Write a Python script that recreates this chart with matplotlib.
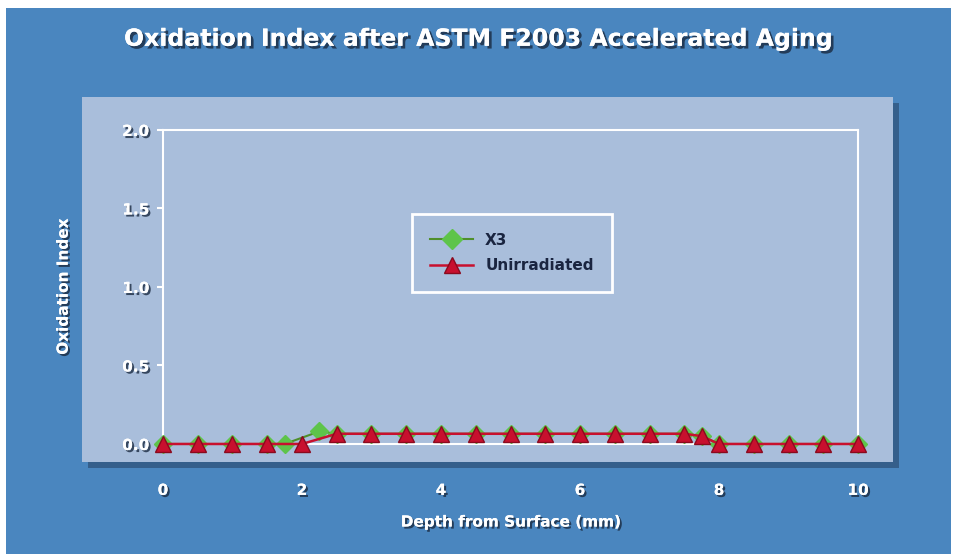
import matplotlib.pyplot as plt
import matplotlib.patheffects as pe
from matplotlib.patches import Rectangle

depth_unirr = [0, 0.5, 1, 1.5, 2, 2.5, 3, 3.5, 4, 4.5, 5, 5.5, 6, 6.5, 7, 7.5, 7.75, 8, 8.5, 9, 9.5, 10]
oi_unirr = [0, 0, 0, 0, 0, 0.065, 0.065, 0.065, 0.065, 0.065, 0.065, 0.065, 0.065, 0.065, 0.065, 0.065, 0.05, 0, 0, 0, 0, 0]

depth_x3 = [0, 0.5, 1, 1.5, 1.75, 2.25, 2.5, 3, 3.5, 4, 4.5, 5, 5.5, 6, 6.5, 7, 7.5, 7.75, 8, 8.5, 9, 9.5, 10]
oi_x3 = [0, 0, 0, 0, 0, 0.08, 0.065, 0.065, 0.065, 0.065, 0.065, 0.065, 0.065, 0.065, 0.065, 0.065, 0.065, 0.05, 0, 0, 0, 0, 0]

x_ticks = [0, 2, 4, 6, 8, 10]
y_ticks = [0.0, 0.5, 1.0, 1.5, 2.0]

bg_blue = '#4a86bf'
panel_col = '#a9bedb'
red = '#c8102e'
green = '#5ec44a'

shadow = [pe.withSimplePatchShadow(offset=(1.5, -1.5), shadow_rgbFace='#1a2a40', alpha=0.8), pe.Normal()]

fig = plt.figure(figsize=(9.57, 5.54), dpi=100)
fig.patch.set_facecolor('white')
fig.patches.append(Rectangle((0.006, 0.0), 0.988, 0.985, transform=fig.transFigure,
                             facecolor=bg_blue, edgecolor='none', zorder=0))
# inner panel with shadow
fig.patches.append(Rectangle((0.0857 + 0.006, 0.1661 - 0.01), 0.8474, 0.6588, transform=fig.transFigure,
                             facecolor='#2d4f75', edgecolor='none', alpha=0.7, zorder=0.5))
fig.patches.append(Rectangle((0.0857, 0.1661), 0.8474, 0.6588, transform=fig.transFigure,
                             facecolor=panel_col, edgecolor='none', zorder=1))

ax = fig.add_axes([0.1703, 0.1986, 0.7263, 0.5668])
ax.set_facecolor(panel_col)
ax.set_zorder(2)

ax.plot(depth_x3, oi_x3, color='#4f8f2a', lw=1.5, marker='D', markersize=9,
        markerfacecolor=green, markeredgecolor=green, label='X3', clip_on=False, zorder=3)
ax.plot(depth_unirr, oi_unirr, color=red, lw=1.8, marker='^', markersize=11,
        markerfacecolor=red, markeredgecolor='#8a0a1e', label='Unirradiated', clip_on=False, zorder=4)

ax.set_xlim(0, 10)
ax.set_ylim(0, 2)
ax.set_xticks(x_ticks)
ax.set_yticks(y_ticks)
ax.set_yticklabels(['%.1f' % v for v in y_ticks])

for s in ax.spines.values():
    s.set_color('white')
    s.set_linewidth(1.5)

ax.tick_params(axis='x', length=0, pad=28, labelsize=11, labelcolor='white')
ax.tick_params(axis='y', length=4, width=1.5, color='white', pad=6, labelsize=11, labelcolor='white')
for lab in ax.get_xticklabels() + ax.get_yticklabels():
    lab.set_fontweight('bold')
    lab.set_path_effects(shadow)

ax.set_xlabel('Depth from Surface (mm)', color='white', fontsize=11, fontweight='bold', labelpad=12)
ax.xaxis.label.set_path_effects(shadow)
ax.set_ylabel('Oxidation Index', color='white', fontsize=11, fontweight='bold', labelpad=37)
ax.yaxis.label.set_path_effects(shadow)

fig.text(0.5, 0.93, 'Oxidation Index after ASTM F2003 Accelerated Aging', ha='center', va='center',
         color='white', fontsize=17, fontweight='bold',
         path_effects=[pe.withSimplePatchShadow(offset=(2, -2), shadow_rgbFace='#1a2a40', alpha=0.8), pe.Normal()])

leg = ax.legend(loc='center', bbox_to_anchor=(0.502, 0.608), frameon=True,
                prop={'weight': 'bold', 'size': 11}, handlelength=2.8, borderpad=0.9,
                labelspacing=0.7, markerscale=1.1)
leg.get_frame().set_facecolor(panel_col)
leg.get_frame().set_edgecolor('white')
leg.get_frame().set_linewidth(2)
leg.get_frame().set_alpha(1)
leg.get_frame().set_boxstyle('square')
for t in leg.get_texts():
    t.set_color('#1a2540')

fig.savefig('out.png', dpi=100, facecolor=fig.get_facecolor())
